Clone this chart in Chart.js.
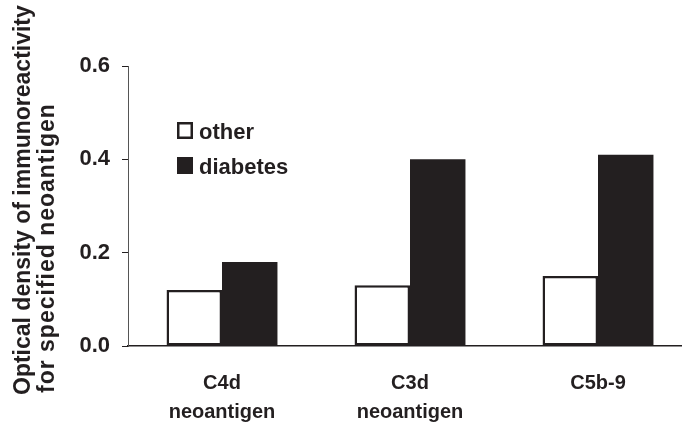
<!DOCTYPE html>
<html>
<head>
<meta charset="utf-8">
<script src="https://cdn.jsdelivr.net/npm/chart.js@4/dist/chart.umd.min.js"></script>
<style>
  html, body { margin: 0; padding: 0; background: #fff; overflow: hidden; }
  #wrap { width: 692px; height: 427px; }
</style>
</head>
<body>
<div id="wrap"><canvas id="myChart" width="692" height="427"></canvas></div>
<script>
// data
const categories = [['C4d', 'neoantigen'], ['C3d', 'neoantigen'], ['C5b-9']];
const series_names = ['other', 'diabetes'];
const other_values = [0.12, 0.13, 0.15];
const diabetes_values = [0.18, 0.40, 0.41];
const y_ticks = [0.0, 0.2, 0.4, 0.6];
const y_title = ['Optical density of immunoreactivity', 'for specified neoantigen'];

const INK = '#231f20';
const FONT = '"Liberation Sans", Arial, sans-serif';

// title + legend are drawn by hand, the figure places them freely
const extras_plugin = {
    id: 'extras',
    afterDraw(chart) {
        const c = chart.ctx;
        c.save();
        c.fillStyle = INK;
        c.textAlign = 'left';
        c.textBaseline = 'alphabetic';
        c.font = 'bold 23px ' + FONT;
        // y title, two rotated lines
        c.save();
        c.translate(30, 395);
        c.rotate(-Math.PI / 2);
        c.fillText(y_title[0], 0, 0);
        c.restore();
        c.save();
        c.translate(54, 393);
        c.rotate(-Math.PI / 2);
        c.letterSpacing = '1px';
        c.fillText(y_title[1], 0, 0);
        c.restore();

        // legend
        const ds = chart.data.datasets;
        c.font = 'bold 22px ' + FONT;
        for (let i = 0; i < ds.length; i++) {
            const top = 122 + i * 35;
            if (ds[i].backgroundColor === '#ffffff') {
                c.fillStyle = '#fff';
                c.fillRect(177, top, 16, 17);
                c.strokeStyle = INK;
                c.lineWidth = 2.5;
                c.strokeRect(178.25, top + 1.25, 13.5, 14.5);
            } else {
                c.fillStyle = INK;
                c.fillRect(177, top, 16, 17);
            }
            c.fillStyle = INK;
            c.fillText(ds[i].label, 199, top + 17);
        }
        c.restore();
    }
};

const ctx = document.getElementById('myChart').getContext('2d');
const myChart = new Chart(ctx, {
    type: 'bar',
    data: {
        labels: categories,
        datasets: [
            {
                label: series_names[0],
                data: other_values,
                backgroundColor: '#ffffff',
                borderColor: INK,
                borderWidth: 2.5,
                borderSkipped: false
            },
            {
                label: series_names[1],
                data: diabetes_values,
                backgroundColor: INK,
                borderColor: INK,
                borderWidth: 0
            }
        ]
    },
    options: {
        responsive: false,
        animation: false,
        devicePixelRatio: 1,
        layout: { padding: { top: 66, right: 0, bottom: 0, left: 0 } },
        plugins: {
            legend: { display: false },
            tooltip: { enabled: false }
        },
        datasets: {
            bar: { categoryPercentage: 0.59, barPercentage: 1.0 }
        },
        scales: {
            x: {
                afterFit(scale) { scale.height = 81; },
                grid: { display: false, drawTicks: false },
                border: { display: true, color: INK, width: 1.5 },
                ticks: {
                    color: INK,
                    padding: 23,
                    maxRotation: 0,
                    font: { family: FONT, size: 20, weight: 'bold', lineHeight: 1.45 }
                }
            },
            y: {
                min: 0,
                max: 0.6,
                afterFit(scale) { scale.width = 128; },
                afterBuildTicks(scale) { scale.ticks = y_ticks.map(v => ({ value: v })); },
                grid: { drawOnChartArea: false, drawTicks: true, tickLength: 6, color: INK, lineWidth: 1 },
                border: { display: true, color: '#555', width: 1 },
                ticks: {
                    color: INK,
                    padding: 12,
                    font: { family: FONT, size: 22, weight: 'bold' },
                    callback: (v) => Number(v).toFixed(1)
                }
            }
        }
    },
    plugins: [extras_plugin]
});
</script>
</body>
</html>
